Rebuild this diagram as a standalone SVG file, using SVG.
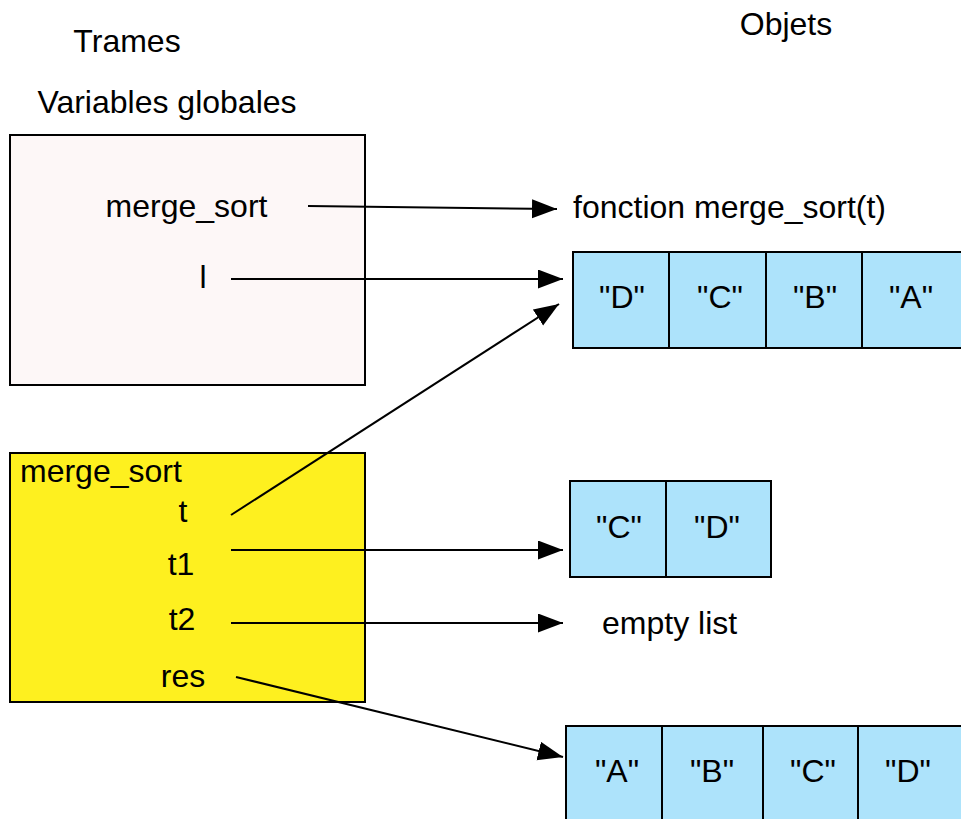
<svg xmlns="http://www.w3.org/2000/svg" width="961" height="819" viewBox="0 0 961 819">
<style>
text{font-family:"Liberation Sans",Arial,sans-serif;font-size:32px;fill:#000}
.c{text-anchor:middle}
.frame{stroke:#000;stroke-width:2}
.cell{fill:#ade3fb;stroke:#000;stroke-width:2}
.conn line{stroke:#000;stroke-width:2;marker-end:url(#ah)}
</style>
<defs>
<marker id="ah" markerUnits="userSpaceOnUse" markerWidth="26" markerHeight="20" refX="25" refY="9.5" orient="auto" viewBox="0 0 26 20">
<path d="M0,0 L25,9.5 L0,19 z" fill="#000"/>
</marker>
</defs>
<rect width="961" height="819" fill="#fff"/>
<g id="titles">
<text class="c" x="127" y="52">Trames</text>
<text class="c" x="786" y="35">Objets</text>
<text class="c" x="167" y="113">Variables globales</text>
</g>
<g id="globals">
<rect class="frame" x="10" y="135" width="355" height="250" fill="#fdf7f7"/>
<text class="c" x="186.5" y="217">merge_sort</text>
<text class="c" x="203" y="288">l</text>
</g>
<g id="frame_merge_sort">
<rect class="frame" x="10" y="453" width="355" height="249" fill="#fef01f"/>
<text x="20" y="482">merge_sort</text>
<text class="c" x="183" y="522">t</text>
<text class="c" x="181" y="575">t1</text>
<text class="c" x="182" y="630">t2</text>
<text class="c" x="183" y="687">res</text>
</g>
<g id="func">
<text x="573" y="218">fonction merge_sort(t)</text>
</g>
<g id="list_l">
<rect class="cell" x="573" y="252" width="96" height="96"/>
<rect class="cell" x="669" y="252" width="97" height="96"/>
<rect class="cell" x="766" y="252" width="96" height="96"/>
<rect class="cell" x="862" y="252" width="102" height="96"/>
<text class="c" x="622" y="308">"D"</text>
<text class="c" x="720" y="308">"C"</text>
<text class="c" x="815" y="308">"B"</text>
<text class="c" x="911" y="308">"A"</text>
</g>
<g id="list_t1">
<rect class="cell" x="570" y="481" width="96" height="96"/>
<rect class="cell" x="666" y="481" width="105" height="96"/>
<text class="c" x="619" y="538">"C"</text>
<text class="c" x="717" y="538">"D"</text>
</g>
<g id="empty">
<text x="602" y="634">empty list</text>
</g>
<g id="list_res">
<rect class="cell" x="566" y="726" width="96" height="100"/>
<rect class="cell" x="662" y="726" width="101" height="100"/>
<rect class="cell" x="763" y="726" width="95" height="100"/>
<rect class="cell" x="858" y="726" width="106" height="100"/>
<text class="c" x="617" y="782">"A"</text>
<text class="c" x="712" y="782">"B"</text>
<text class="c" x="813" y="782">"C"</text>
<text class="c" x="908" y="782">"D"</text>
</g>
<g id="connectors" class="conn">
<line x1="308" y1="206" x2="557" y2="209"/>
<line x1="231" y1="279" x2="563" y2="279"/>
<line x1="231" y1="515" x2="559" y2="304"/>
<line x1="231" y1="550" x2="563" y2="550"/>
<line x1="231" y1="623" x2="563" y2="623"/>
<line x1="236" y1="677" x2="563" y2="757"/>
</g>
</svg>
